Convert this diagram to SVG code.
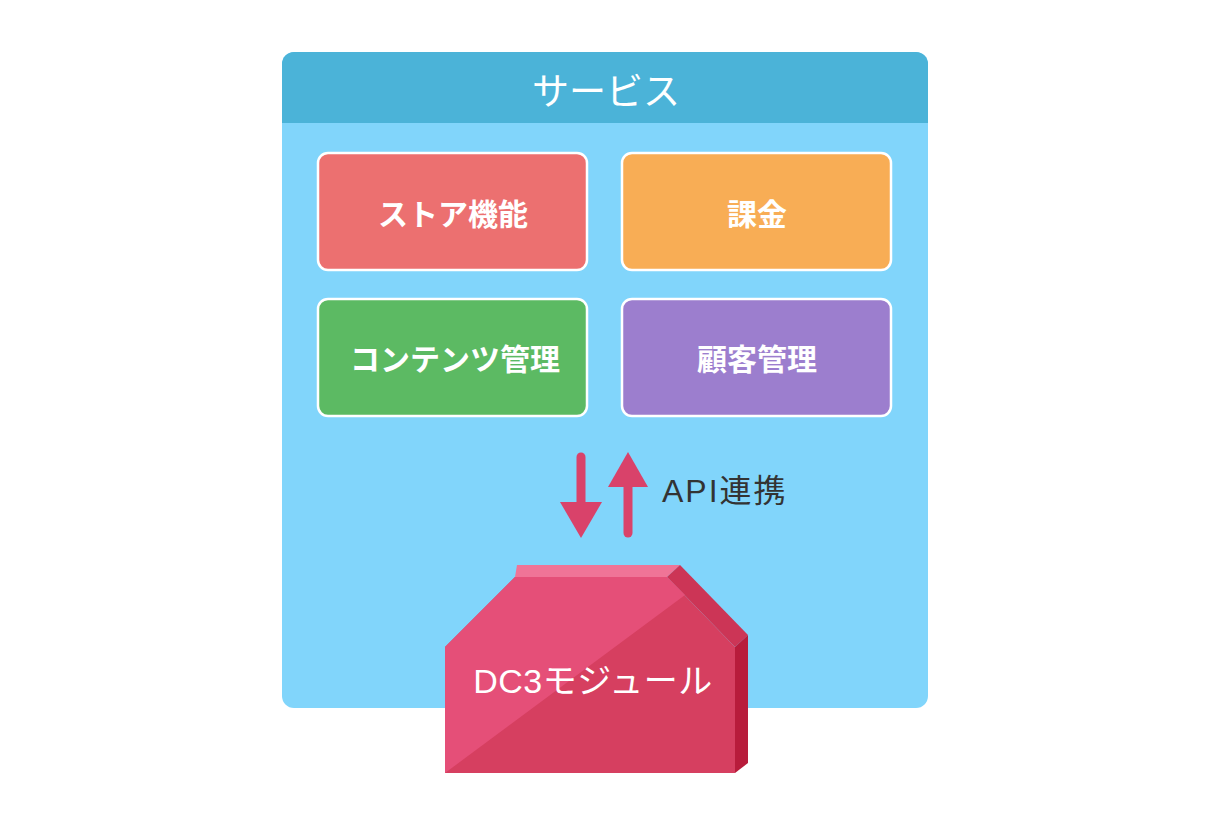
<svg xmlns="http://www.w3.org/2000/svg" width="1210" height="834" viewBox="0 0 1210 834">
<style>
.box{stroke:#ffffff;stroke-width:2.5}
.lbl{font-family:"Noto Sans CJK JP","Noto Sans",sans-serif;font-weight:bold;font-size:30px;fill:#ffffff;text-anchor:middle;dominant-baseline:central}
.arr{stroke:#d9426a;stroke-width:9;stroke-linecap:round;fill:none}
.head{fill:#d9426a}
</style>
<rect width="1210" height="834" fill="#ffffff"/>
<g id="service">
<rect x="282" y="52" width="646" height="656" rx="12" fill="#81d5fb"/>
<path d="M282,123 V64 a12,12 0 0 1 12,-12 H916 a12,12 0 0 1 12,12 V123 Z" fill="#4bb3d8"/>
<text x="606" y="89" font-family="Noto Sans CJK JP,sans-serif" font-size="37" fill="#ffffff" text-anchor="middle" dominant-baseline="central">サービス</text>
</g>
<g id="store">
<rect class="box" x="318" y="153" width="269" height="117" rx="10" fill="#ec7070"/>
<text class="lbl" x="453" y="212">ストア機能</text>
</g>
<g id="billing">
<rect class="box" x="622" y="153" width="269" height="117" rx="10" fill="#f8ad55"/>
<text class="lbl" x="757" y="212">課金</text>
</g>
<g id="content">
<rect class="box" x="318" y="299" width="269" height="117" rx="10" fill="#5cba63"/>
<text class="lbl" x="455" y="357">コンテンツ管理</text>
</g>
<g id="customer">
<rect class="box" x="622" y="299" width="269" height="117" rx="10" fill="#9c7ece"/>
<text class="lbl" x="757" y="357">顧客管理</text>
</g>
<g id="connectors">
<line class="arr" x1="581" y1="457" x2="581" y2="505"/>
<polygon class="head" points="560,502 602,502 581,538"/>
<line class="arr" x1="628" y1="533" x2="628" y2="485"/>
<polygon class="head" points="608,487 648,487 628,452"/>
<text x="662" y="491" font-family="Liberation Sans,Noto Sans CJK JP,sans-serif" font-size="32" letter-spacing="2" fill="#333333" dominant-baseline="central">API連携</text>
</g>
<g id="dc3">
<polygon points="517,565 680,565 667,577 515,577" fill="#f07497"/>
<polygon points="667,577 680,565 748,635 735,647" fill="#cc3556"/>
<polygon points="735,647 748,635 748,763 735,773" fill="#b81c3b"/>
<polygon points="445,647 515,577 667,577 735,647 735,773 445,773" fill="#d63f60"/>
<polygon points="445,773 445,647 515,577 667,577 685,595" fill="#e54f78"/>
<text x="593" y="681" font-family="Liberation Sans,Noto Sans CJK JP,sans-serif" font-size="34" letter-spacing="0.5" fill="#ffffff" text-anchor="middle" dominant-baseline="central">DC3モジュール</text>
</g>
</svg>
